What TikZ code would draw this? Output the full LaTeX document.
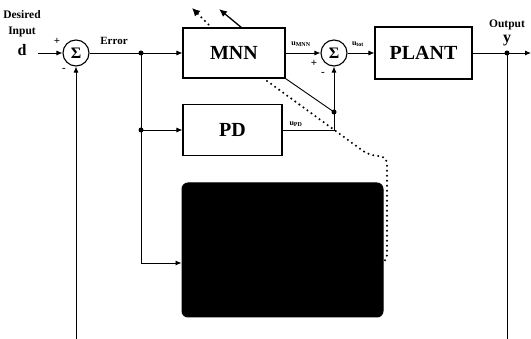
\documentclass[tikz,border=0pt]{standalone}
\usepackage{fontspec}
\setmainfont{Liberation Serif}
\usetikzlibrary{arrows.meta,calc}
\begin{document}
\begin{tikzpicture}[x=1pt,y=-1pt,
  blk/.style={draw,line width=1.1pt,font=\fontsize{20}{22}\selectfont\bfseries,inner sep=0},
  sumnode/.style={draw,circle,line width=1.1pt,minimum size=26pt,inner sep=0,font=\fontsize{16}{16}\selectfont\bfseries},
  conn/.style={line width=0.9pt,-{Latex[length=6pt,width=5pt]}},
  wire/.style={line width=0.9pt},
  dotline/.style={line width=2.3pt,line cap=round,dash pattern=on 0pt off 5pt},
  dotnode/.style={circle,fill,inner sep=0,minimum size=5pt},
  lbl/.style={font=\fontsize{11.5}{12}\selectfont\bfseries,inner sep=0},
  biglbl/.style={font=\fontsize{16}{16}\selectfont\bfseries,inner sep=0},
  sublbl/.style={font=\fontsize{8}{9}\selectfont\bfseries,inner sep=0},
  sign/.style={font=\fontsize{11}{11}\selectfont\bfseries,inner sep=0}]
\useasboundingbox (0,0) rectangle (531,339);

% blocks
\node[sumnode] (s1) at (76,53) {Σ};
\node[blk,minimum width=102pt,minimum height=50pt] (mnn) at (234,53) {MNN};
\node[blk,minimum width=99pt,minimum height=51pt] (pd) at (232.5,130) {PD};
\node[draw,fill=black,line width=1pt,rounded corners=6pt,minimum width=201pt,minimum height=134pt] (hid) at (282.5,250) {};
\node[sumnode] (s2) at (334,53) {Σ};
\node[blk,minimum width=97pt,minimum height=52pt] (plant) at (423.5,53) {PLANT};

% junctions
\node[dotnode] (j1) at (141,53) {};
\node[dotnode] (j2) at (141,130) {};
\node[dotnode] (j4) at (334,112) {};
\node[dotnode] (j5) at (507,53) {};
\coordinate (j3) at (141,263);
\coordinate (din) at (38,53);
\coordinate (yout) at (531,53);
\coordinate (fb1) at (76,339);
\coordinate (fb2) at (507,339);
\coordinate (a1) at (242,28);
\coordinate (a1e) at (219,9);
\coordinate (a2) at (212,28);
\coordinate (a2e) at (192,8);
\coordinate (dp0) at (263,78);
\coordinate (dp1) at (370,156);
\coordinate (dp2) at (387,156);
\coordinate (dp3) at (387,263);

% labels
\node[lbl] (l1) at (22,15) {Desired};
\node[lbl] (l2) at (22,32) {Input};
\node[biglbl] (l3) at (22,50) {d};
\node[sign] (p1) at (57,41) {+};
\node[sign] (m1) at (64,70) {-};
\node[lbl,font=\fontsize{11}{12}\selectfont\bfseries] (le) at (114,41) {Error};
\node[sublbl] (lu1) at (301,44) {u\textsubscript{MNN}};
\node[sign] (p2) at (314,63) {+};
\node[sign] (m2) at (323,74) {-};
\node[sublbl] (lu2) at (358,44) {u\textsubscript{tot}};
\node[sublbl] (lu3) at (296,124) {u\textsubscript{PD}};
\node[lbl] (lo) at (507,25) {Output};
\node[biglbl] (ly) at (507,41) {y};

% connectors
\draw[conn] (din) -- (s1.west);
\draw[conn] (s1.east) -- (mnn.west);
\draw[wire] (j1.center) -- (j3);
\draw[conn] (j2.center) -- (pd.west);
\draw[conn] (j3) -- (hid.west |- j3);
\draw[conn] (mnn.east) -- (s2.west);
\draw[conn] (s2.east) -- (plant.west);
\draw[wire] (mnn.south east) -- (j4.center);
\draw[wire] (pd.east) -| (j4.center);
\draw[conn] (j4.center) -- (s2.south);
\draw[conn] (plant.east) -- (yout);
\draw[wire] (j5.center) -- (fb2);
\draw[conn] (fb1) -- (s1.south);
\draw[line width=1.3pt,-{Latex[length=8pt,width=7pt]}] (a1) -- (a1e);
\draw[dotline,-{Latex[length=8pt,width=8pt]}] (a2) -- (a2e);
\draw[dotline,rounded corners=8pt] (dp0) -- (dp1) -- (dp2) -- (dp3) -- (hid.east |- dp3);
\end{tikzpicture}
\end{document}
